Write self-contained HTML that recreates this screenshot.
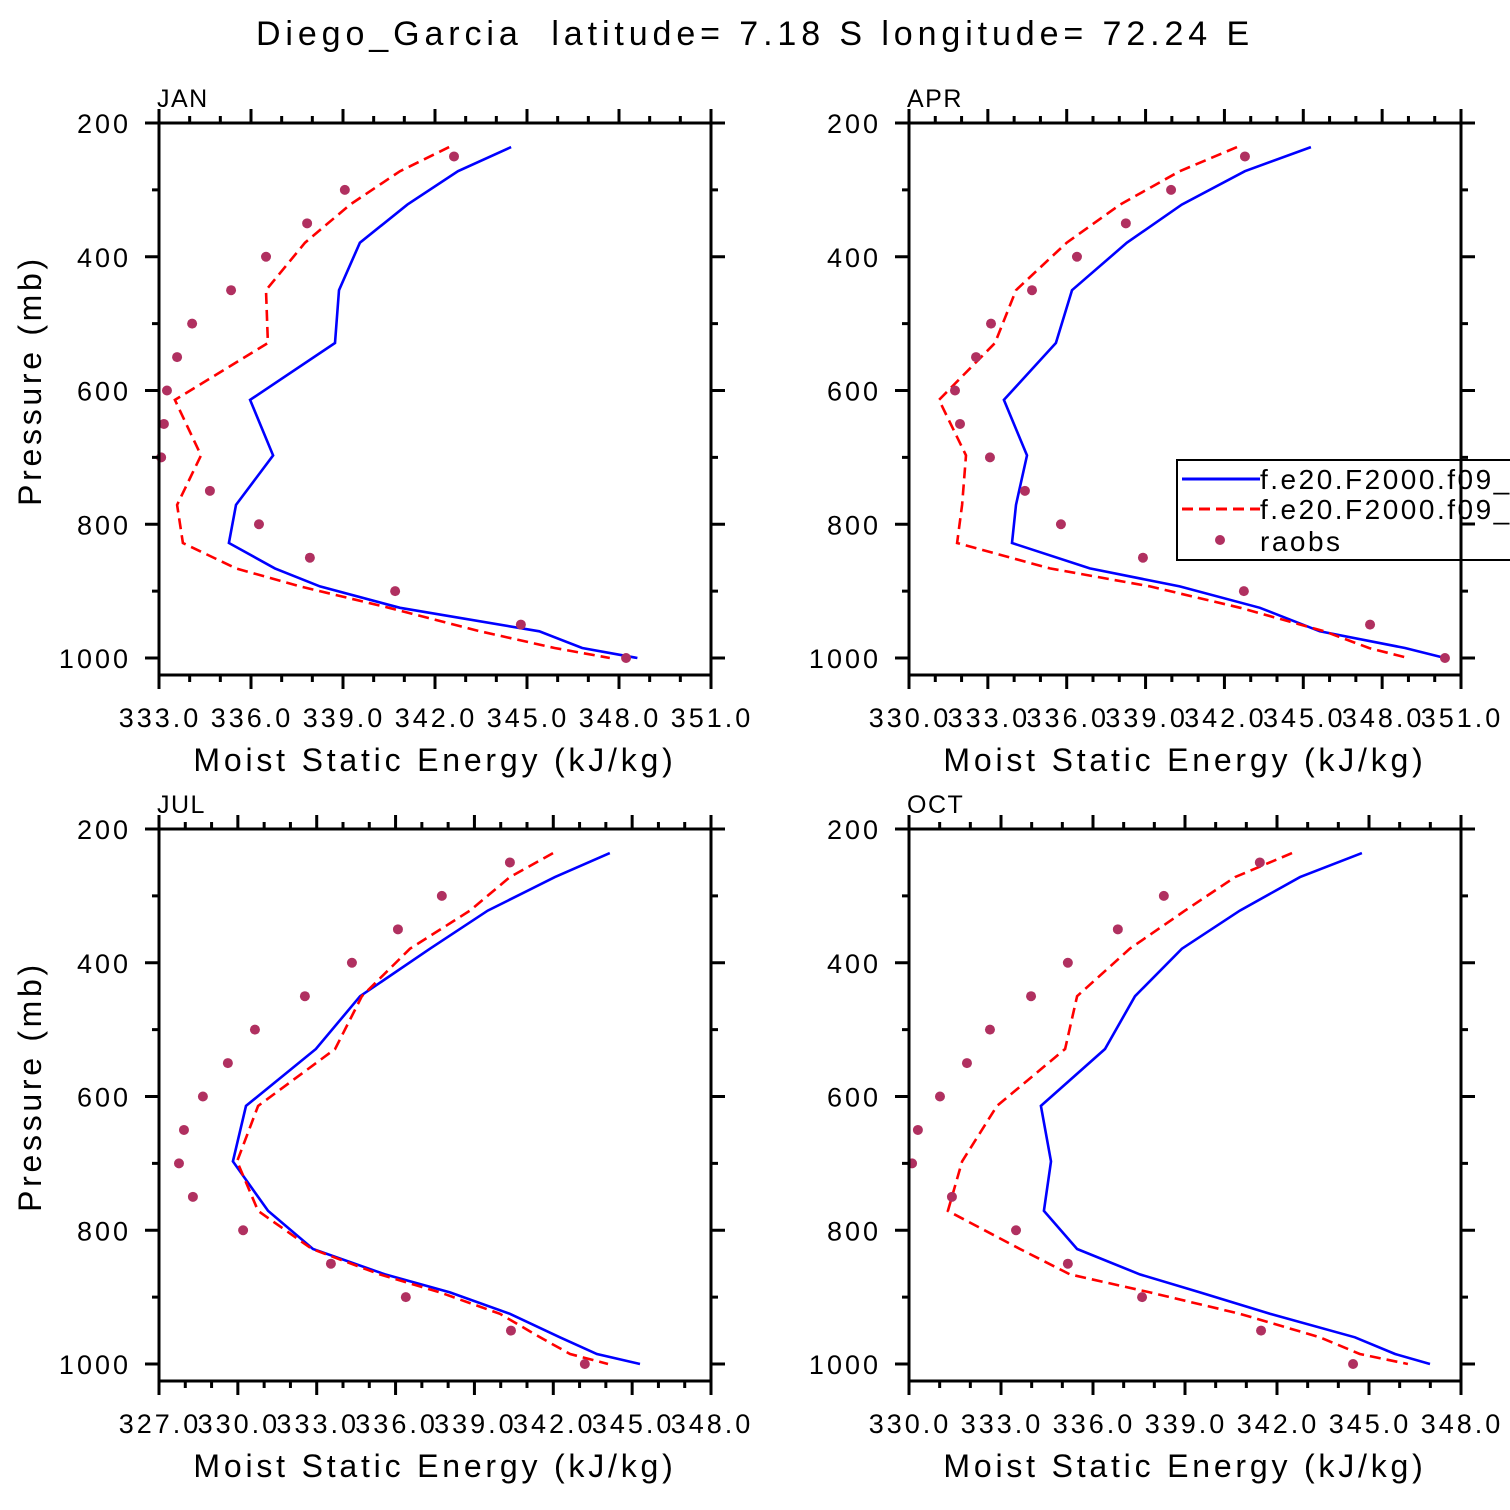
<!DOCTYPE html>
<html><head><meta charset="utf-8"><style>
html,body{margin:0;padding:0;background:#fff;}
svg{display:block;font-family:"Liberation Sans",sans-serif;}
text{white-space:pre;}
</style></head><body>
<svg id="chart" width="1510" height="1510" viewBox="0 0 1510 1510" xmlns="http://www.w3.org/2000/svg">
<text x="755" y="45" text-anchor="middle" font-size="34" letter-spacing="4.9" xml:space="preserve">Diego_Garcia  latitude= 7.18 S longitude= 72.24 E</text>
</svg>
<script>
const modelLevels=[236,272,322,379,450,529,614,697,771,828,866,893,925,960,985,1000];
const obsLevels=[250,300,350,400,450,500,550,600,650,700,750,800,850,900,950,1000];
const panelNames=['JAN','APR','JUL','OCT'];
const janModelA=[344.48,342.75,341.1,339.55,338.87,338.74,335.97,336.72,335.51,335.28,336.78,338.25,340.86,345.4,346.8,348.6];
const janModelB=[342.46,340.86,339.23,337.76,336.49,336.55,333.52,334.37,333.59,333.78,335.51,337.6,340.5,343.47,345.9,347.7];
const janObs=[342.62,339.06,337.83,336.49,335.35,334.08,333.59,333.26,333.16,333.07,334.66,336.26,337.92,340.7,344.8,348.23];
const aprModelA=[345.29,342.78,340.38,338.29,336.2,335.59,333.61,334.49,334.07,333.92,336.88,340.3,343.35,345.63,348.87,350.39];
const aprModelB=[342.48,340.3,338.03,336.0,334.07,333.27,331.14,332.17,332.02,331.83,335.36,339.17,342.6,345.8,347.5,348.98];
const aprObs=[342.78,339.97,338.25,336.39,334.68,333.12,332.55,331.75,331.94,333.08,334.41,335.78,338.9,342.74,347.54,350.39];
const julModelA=[344.15,342.06,339.51,337.31,334.65,332.97,330.31,329.81,331.15,332.86,335.6,338.07,340.35,342.25,343.66,345.3];
const julModelB=[341.99,340.35,338.83,336.55,334.72,333.7,330.77,329.97,330.77,332.82,335.4,337.69,339.97,341.5,342.64,344.08];
const julObs=[340.35,337.76,336.09,334.34,332.55,330.65,329.62,328.67,327.95,327.76,328.29,330.2,333.54,336.39,340.39,343.2];
const octModelA=[344.77,342.75,340.79,338.9,337.37,336.39,334.3,334.63,334.4,335.48,337.53,339.49,341.77,344.54,345.85,346.99];
const octModelB=[342.49,340.63,339.0,337.2,335.48,335.09,332.87,331.73,331.27,333.62,335.25,337.86,340.79,343.4,344.7,346.27];
const octObs=[341.44,338.31,336.81,335.18,333.98,332.64,331.89,331.01,330.29,330.1,331.4,333.49,335.18,337.6,341.48,344.48];
const xMins=[333,330,327,330];
const xMaxs=[351,351,348,348];
const yTickLabels=[200,400,600,800,1000];

const NS='http://www.w3.org/2000/svg';
const svg=document.getElementById('chart');
function mk(tag,attrs,parent){const e=document.createElementNS(NS,tag);for(const k in attrs)e.setAttribute(k,attrs[k]);(parent||svg).appendChild(e);return e;}
const seriesA=[janModelA,aprModelA,julModelA,octModelA];
const seriesB=[janModelB,aprModelB,julModelB,octModelB];
const seriesO=[janObs,aprObs,julObs,octObs];
const origins=[[159,123],[909,123],[159,829],[909,829]];
const W=552,H0=535,HB=552;
for(let i=0;i<4;i++){
  const [x0,y0]=origins[i];
  const xmin=xMins[i],xmax=xMaxs[i];
  const xs=v=>x0+(v-xmin)/(xmax-xmin)*W;
  const ys=p=>y0+(p-200)/800*H0;
  const g=mk('g',{});
  
  
  const lbl=mk('text',{x:x0-2,y:y0-16,'font-size':25,'letter-spacing':1.5},g);lbl.textContent=panelNames[i];
  
  
  const dA=seriesA[i].map((v,k)=>(k?'L':'M')+xs(v).toFixed(1)+','+ys(modelLevels[k]).toFixed(1)).join('');
  const pa=mk('path',{d:dA,fill:'none',stroke:'#0000ff','stroke-width':2.6},g);
  
  
  const dB=seriesB[i].map((v,k)=>(k?'L':'M')+xs(v).toFixed(1)+','+ys(modelLevels[k]).toFixed(1)).join('');
  const pb=mk('path',{d:dB,fill:'none',stroke:'#ff0000','stroke-width':2.6,'stroke-dasharray':'11,6'},g);
  
  
  seriesO[i].forEach((v,k)=>{
    const c=mk('circle',{cx:xs(v),cy:ys(obsLevels[k]),r:5,fill:'#b03060'},g);
    
    
  });
  const fr=mk('rect',{x:x0,y:y0,width:W,height:HB,fill:'none',stroke:'#000','stroke-width':3},g);
  
  
  let t='';
  for(let p=200;p<=1000;p+=100){const y=ys(p);const L=(p%200===0)?14:7;t+=`M${x0-L},${y}H${x0}M${x0+W},${y}H${x0+W+L}`;}
  for(let v=xmin;v<=xmax+1e-6;v+=1){const x=xs(v);const L=((v-xmin)%3===0)?14:7;t+=`M${x},${y0+HB}V${y0+HB+L}M${x},${y0}V${y0-L}`;}
  const tk=mk('path',{d:t,stroke:'#000','stroke-width':3,fill:'none'},g);
  
  
  yTickLabels.forEach(p=>{
    const tt=mk('text',{x:x0-28,y:ys(p)+10,'font-size':27,'letter-spacing':3,'text-anchor':'end'},g);tt.textContent=p;
    
    
  });
  for(let v=xmin;v<=xmax+1e-6;v+=3){
    const tt=mk('text',{x:xs(v)+1,y:y0+HB+52,'font-size':27,'letter-spacing':3,'text-anchor':'middle'},g);tt.textContent=v.toFixed(1);
    
    
  }
  const xt=mk('text',{x:x0+W/2,y:y0+HB+96,'font-size':32,'text-anchor':'middle','letter-spacing':3.8},g);xt.textContent='Moist Static Energy (kJ/kg)';
  
  
  if(i%2===0){
    const yt=mk('text',{x:0,y:0,'font-size':32,'text-anchor':'middle','letter-spacing':3.7,transform:`translate(${x0-118},${y0+H0/2-10}) rotate(-90)`},g);yt.textContent='Pressure (mb)';
    
    
  }
}
const lg=mk('g',{});


mk('rect',{x:1177,y:460,width:345,height:100,fill:'#fff',stroke:'#000','stroke-width':2},lg);
mk('path',{d:'M1182,479H1260',stroke:'#0000ff','stroke-width':3},lg);
mk('path',{d:'M1182,509H1260',stroke:'#ff0000','stroke-width':3,'stroke-dasharray':'11,6'},lg);
mk('circle',{cx:1220,cy:540,r:5,fill:'#b03060'},lg);
[['f.e20.F2000.f09_f09',489],['f.e20.F2000.f09_f09',519],['raobs',551]].forEach(([s,y],k)=>{
  const tt=mk('text',{x:1260,y:y,'font-size':28,'letter-spacing':2.5},lg);tt.textContent=s;
  
  
});
mk('path',{d:'M1461,450V570M1461,524H1475',stroke:'#000','stroke-width':3},lg);
</script>
</body></html>
